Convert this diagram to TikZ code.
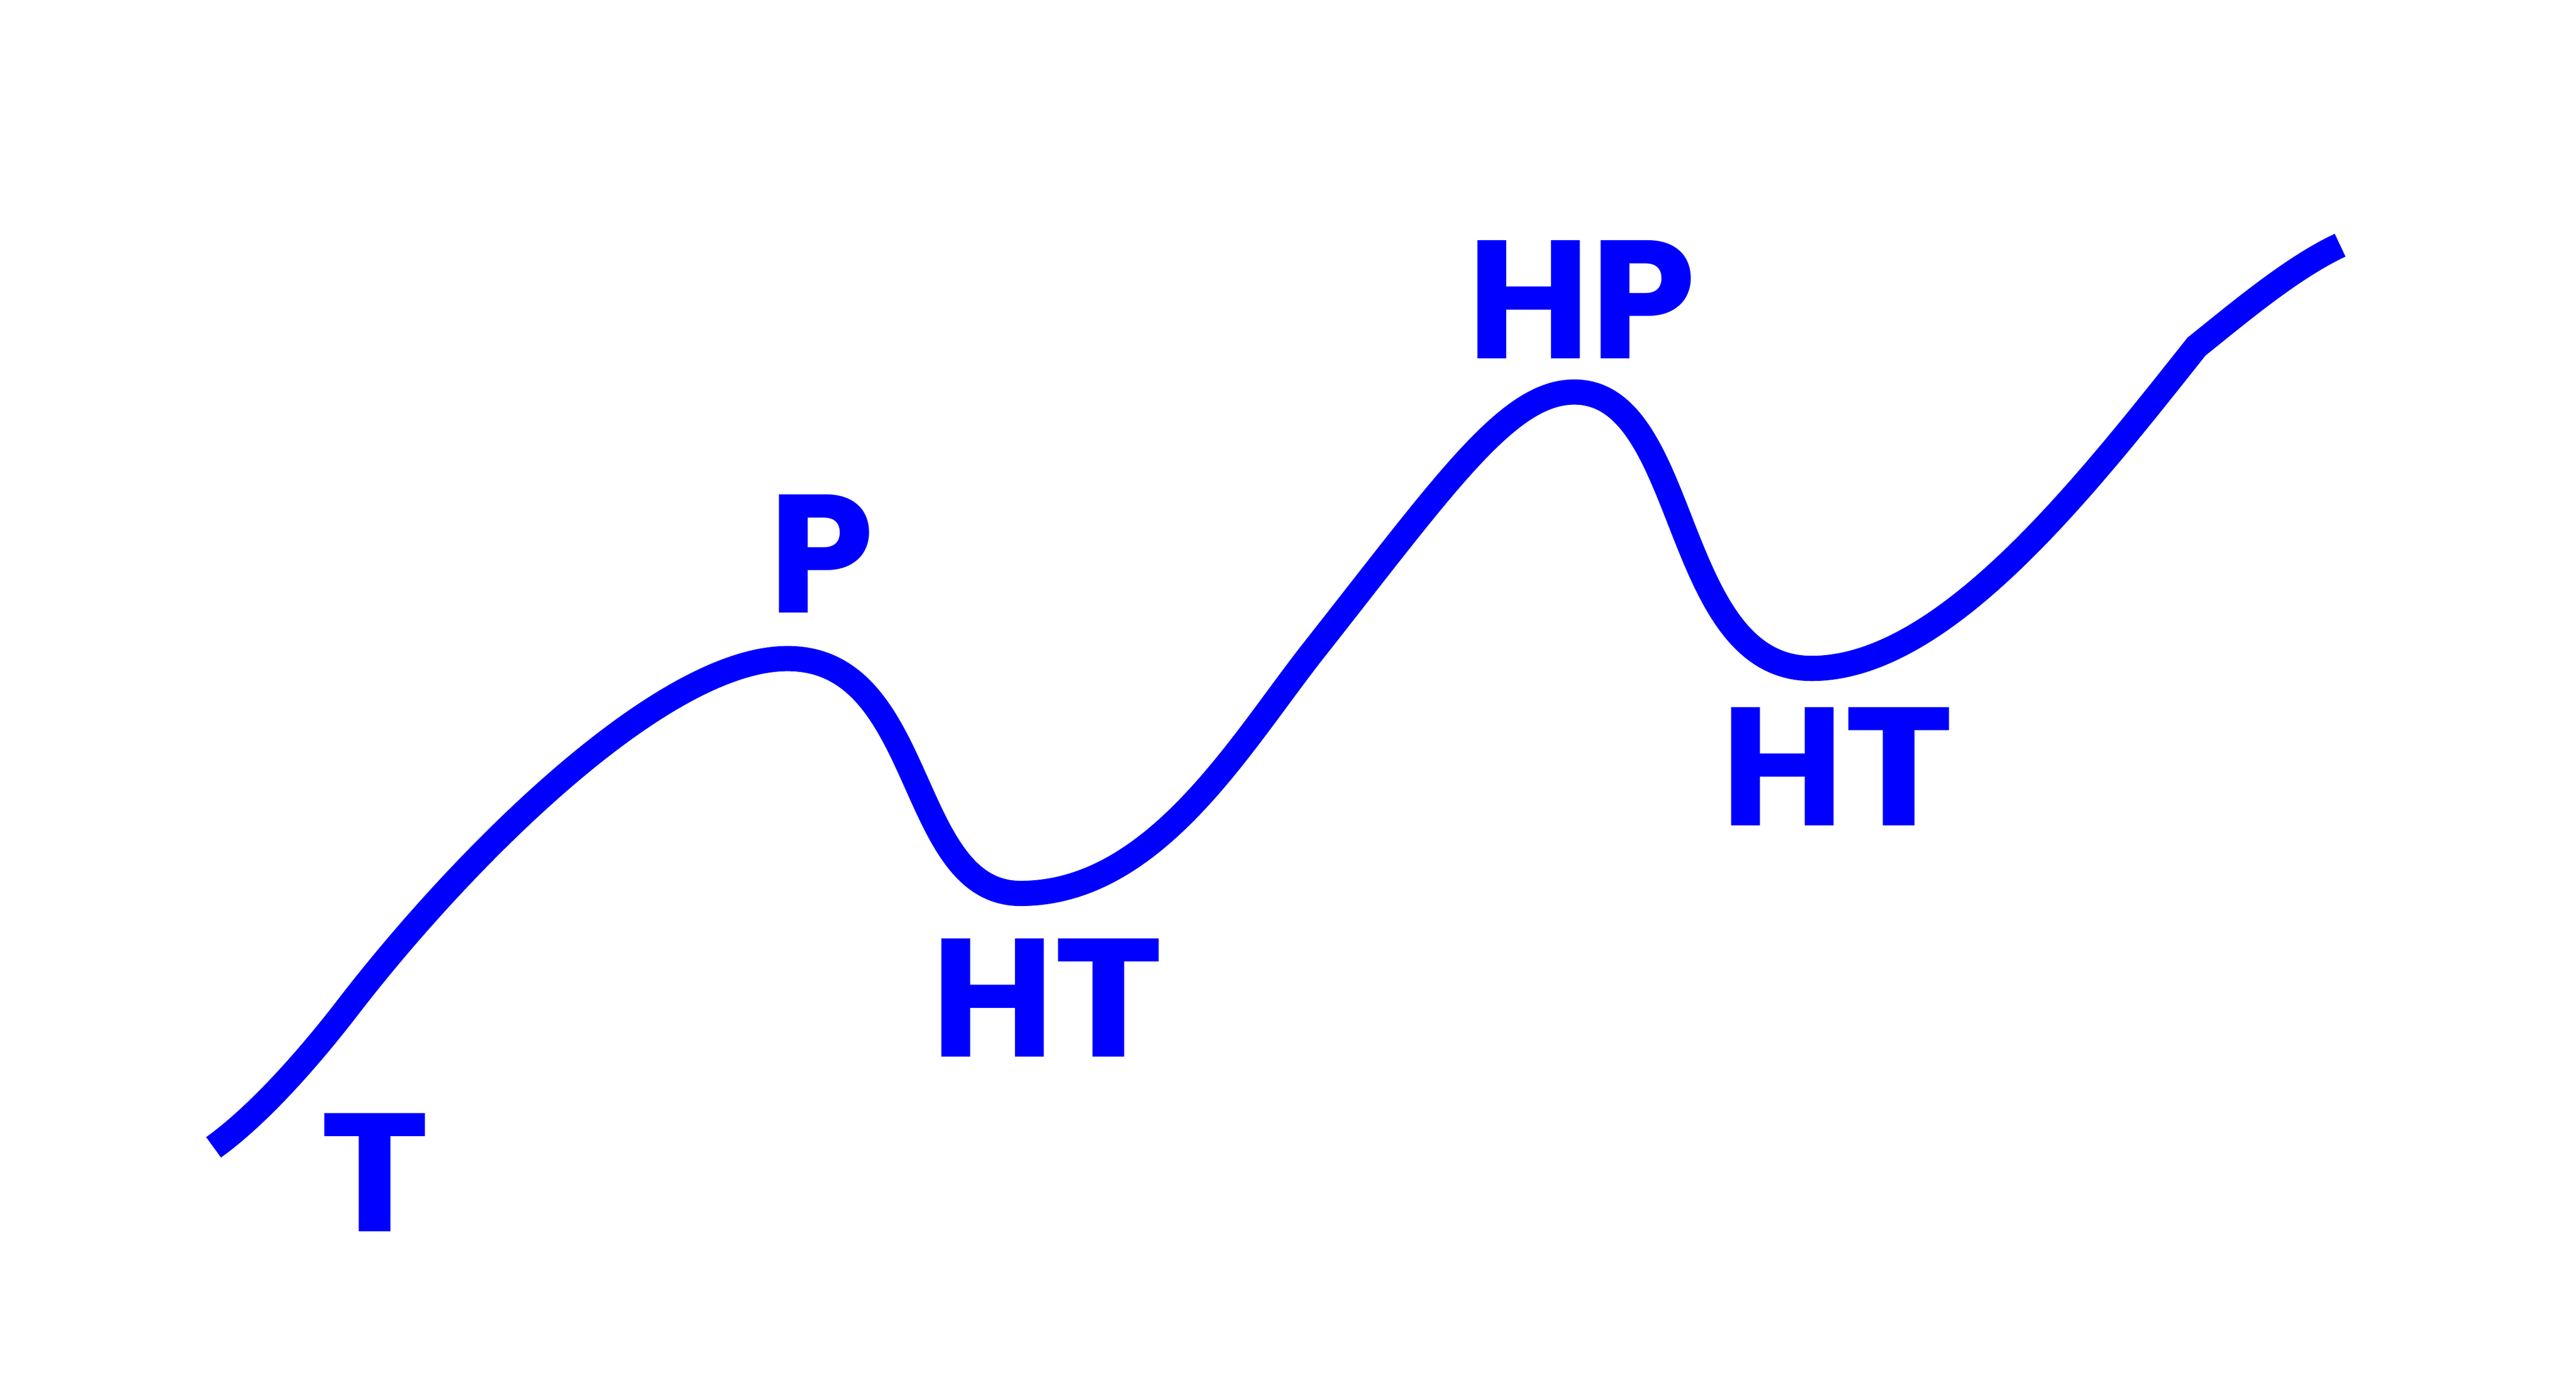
\documentclass[tikz,border=0pt]{standalone}
\usepackage{fontspec}
\setmainfont{Poppins}
\definecolor{pureblue}{RGB}{0,0,255}
\newcommand\wideT{\scalebox{1.10}[1]{T}}
\tikzset{
  curve/.style={draw=pureblue, line width=15.2pt},
  lab/.style={text=pureblue, font=\fontsize{101.5}{101.5}\selectfont\bfseries, inner sep=0pt, anchor=center}
}
\begin{document}
\begin{tikzpicture}[x=0.98986pt,y=-0.98986pt]
\useasboundingbox (0,0) rectangle (1568,847.3);
\coordinate (s) at (130,698.6);
\coordinate (a) at (212,613);
\coordinate (p1) at (479.4,401);
\coordinate (t1) at (621.2,544);
\coordinate (m) at (800,395.5);
\coordinate (p2) at (958.2,238.7);
\coordinate (t2) at (1102.7,407);
\coordinate (b) at (1337,211);
\coordinate (e) at (1424.4,149.3);
\draw[curve] (s) .. controls (160,677) and (192,639) .. (a)
  .. controls (279.7,525) and (401.9,401) .. (p1)
  .. controls (564.4,401) and (551.2,544) .. (t1)
  .. controls (703,544) and (755,452.5) .. (m)
  .. controls (880,294) and (918,238.7) .. (p2)
  .. controls (1029,238.7) and (1017,407) .. (t2)
  .. controls (1182.7,407) and (1267,299.2) .. (b)
  .. controls (1362,191) and (1395,163) .. (e);
\node[lab] (lT) at (228.2,714) {\wideT};
\node[lab] (lP) at (500,337) {P};
\node[lab] (lHT1) at (637.5,607.4) {H\wideT};
\node[lab] (lHP) at (962.5,182.5) {HP};
\node[lab] (lHT2) at (1118.5,466.7) {H\wideT};
\end{tikzpicture}
\end{document}
